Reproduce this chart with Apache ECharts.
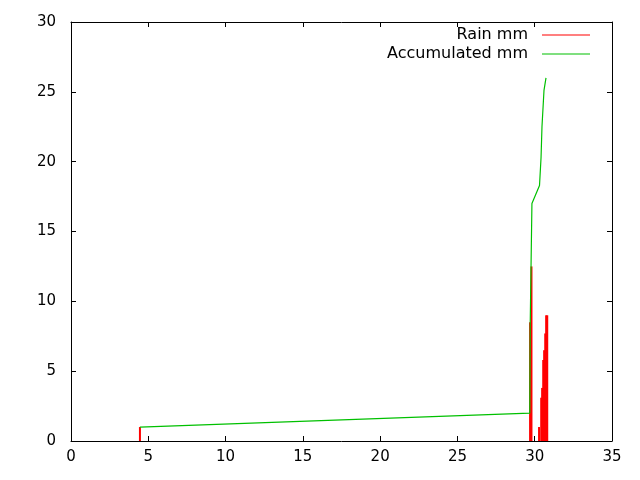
<!DOCTYPE html>
<html>
<head>
<meta charset="utf-8">
<script src="https://cdn.jsdelivr.net/npm/echarts@6/dist/echarts.min.js"></script>
<style>html,body{margin:0;padding:0;background:#fff}#c{width:640px;height:480px}</style>
</head>
<body>
<div id="c"></div>
<script>
// Rain impulses (day of month, mm)
const rainX = [4.46, 29.70, 29.79, 30.28, 30.42, 30.48, 30.55, 30.61, 30.68, 30.74, 30.81];
const rainY = [1.0, 8.5, 12.5, 1.0, 3.1, 3.8, 5.8, 6.5, 7.7, 9.0, 9.0];
// Accumulated rain
const accX = [4.46, 29.68, 29.71, 29.82, 30.31, 30.41, 30.47, 30.60, 30.73];
const accY = [1.0, 2.0, 8.5, 17.0, 18.3, 20.3, 22.5, 25.1, 26.0];
// Axis ranges
const xMin = 0, xMax = 35, xStep = 5;
const yMin = 0, yMax = 30, yStep = 5;
const seriesNames = ['Rain mm', 'Accumulated mm'];

const FONT = 'DejaVu Sans';
const chart = echarts.init(document.getElementById('c'), null, {renderer: 'canvas'});

const axisCommon = {
  axisLine: {show: true, onZero: false, lineStyle: {color: '#000', width: 1}},
  axisTick: {show: true, inside: true, length: 5, lineStyle: {color: '#000'}},
  splitLine: {show: false}
};

chart.setOption({
  animation: false,
  backgroundColor: '#fff',
  grid: {left: 71, top: 22, right: 28, bottom: 39, containLabel: false},
  legend: {
    orient: 'vertical', right: 50, top: 27, align: 'right', padding: 0,
    itemWidth: 48, itemHeight: 1, itemGap: 3, icon: 'rect',
    data: seriesNames,
    textStyle: {fontFamily: FONT, fontSize: 16, color: '#000', padding: [0, 9, 0, 0]}
  },
  xAxis: [
    Object.assign({type: 'value', position: 'bottom', min: xMin, max: xMax, interval: xStep,
      axisLabel: {fontFamily: FONT, fontSize: 15, color: '#000', margin: 9}}, axisCommon),
    Object.assign({type: 'value', position: 'top', min: xMin, max: xMax, interval: xStep,
      axisLabel: {show: false}}, axisCommon)
  ],
  yAxis: [
    Object.assign({type: 'value', position: 'left', min: yMin, max: yMax, interval: yStep,
      axisLabel: {fontFamily: FONT, fontSize: 15, color: '#000', margin: 15}}, axisCommon),
    Object.assign({type: 'value', position: 'right', min: yMin, max: yMax, interval: yStep,
      axisLabel: {show: false}}, axisCommon)
  ],
  series: [
    {
      name: seriesNames[0], type: 'custom', xAxisIndex: 0, yAxisIndex: 0,
      itemStyle: {color: '#ff0000'},
      data: rainX.map((x, i) => [x, rainY[i]]),
      renderItem: function (params, api) {
        const p0 = api.coord([api.value(0), 0]);
        const p1 = api.coord([api.value(0), api.value(1)]);
        return {type: 'line', shape: {x1: p0[0], y1: p0[1], x2: p1[0], y2: p1[1]},
          style: {stroke: '#ff0000', lineWidth: 2}};
      }
    },
    {
      name: seriesNames[1], type: 'line', xAxisIndex: 0, yAxisIndex: 0,
      symbol: 'none', showSymbol: false,
      itemStyle: {color: '#00c000'},
      lineStyle: {color: '#00c000', width: 1.2},
      data: accX.map((x, i) => [x, accY[i]])
    }
  ]
});
</script>
</body>
</html>
